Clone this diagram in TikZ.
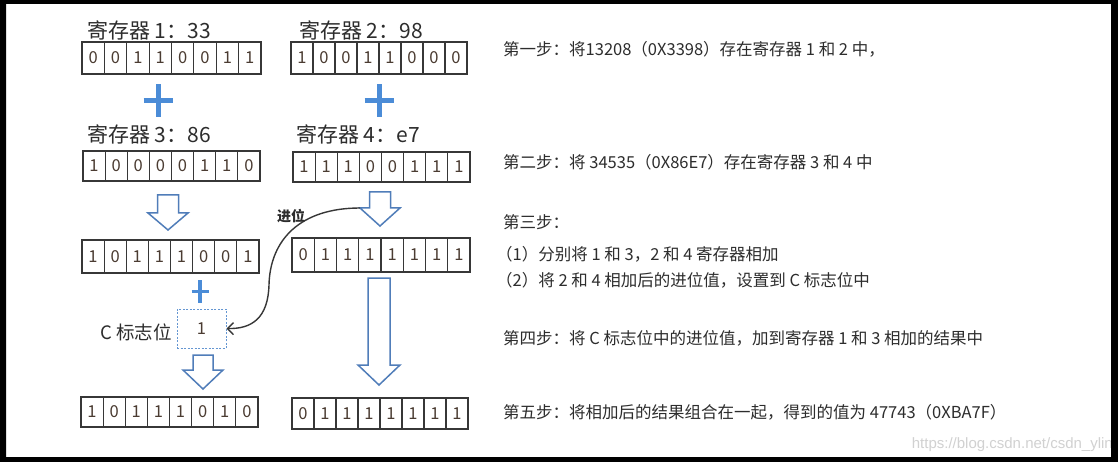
\documentclass[tikz,border=0pt]{standalone}
\usepackage{fontspec}
\setmainfont{Noto Sans CJK SC}
\newfontfamily\wmfont{Liberation Sans}
\usetikzlibrary{arrows.meta,calc}
\definecolor{plusblue}{RGB}{75,140,215}
\definecolor{arrowblue}{RGB}{80,125,185}
\definecolor{flagblue}{RGB}{100,150,210}
\definecolor{boxgray}{RGB}{55,55,55}
\definecolor{digitcol}{RGB}{75,60,50}
\definecolor{textcol}{RGB}{45,45,45}
\tikzset{
  bitcell/.style={draw=boxgray, line width=1.2pt, inner sep=0pt, text=digitcol, font=\fontsize{16.5}{16.5}\selectfont},
  reglabel/.style={anchor=base west, inner sep=0pt, text=textcol, font=\fontsize{21}{21}\selectfont},
  steptext/.style={anchor=base west, inner sep=0pt, text=textcol, font=\fontsize{16.5}{17}\selectfont},
  plusbar/.style={draw=plusblue},
  blockarrow/.style={draw=arrowblue, line width=1.5pt, fill=white, line join=miter},
  flagbox/.style={draw=flagblue, dash pattern=on 2pt off 1.5pt, line width=1pt, minimum width=49pt, minimum height=39pt, inner sep=0pt, text=digitcol, font=\fontsize{16.5}{16.5}\selectfont},
  carry/.style={draw=boxgray, line width=1.4pt, -{Straight Barb[length=6pt,width=12pt]}},
}
\newcommand{\register}[6]{%
  \foreach \b [count=\i] in {#6} {
    \node[bitcell, minimum width=#4/8, minimum height=#5] (#1-\i) at ({#2+(\i-0.5)*#4/8},{#3+#5/2}) {\b};
  }
}
\newcommand{\downblock}[7]{%
  \draw[blockarrow] ({#2-#6/2},#3) -- ({#2+#6/2},#3) -- ({#2+#6/2},#4) -- ({#2+#7/2},#4) -- (#2,#5) -- ({#2-#7/2},#4) -- ({#2-#6/2},#4) -- cycle;
  \coordinate (#1-lh) at ({#2-#7/2},#4);
}
\newcommand{\plussign}[5]{%
  \draw[plusbar, line width=#5] ({#1-#3},#2) -- ({#1+#3},#2) (#1,{#2-#4}) -- (#1,{#2+#4});
}
\begin{document}
\begin{tikzpicture}[x=1pt,y=-1pt]
\useasboundingbox (0,0) rectangle (1118,462);
\fill[white] (0,0) rectangle (1118,462);
% labels
\node[reglabel] (l1) at (87,38.5) {寄存器 1：33};
\node[reglabel] (l2) at (299,39) {寄存器 2：98};
\node[reglabel] (l3) at (87,143) {寄存器 3：86};
\node[reglabel] (l4) at (296,143) {寄存器 4：e7};
% registers
\register{r1}{82}{42}{179}{32}{0,0,1,1,0,0,1,1}
\register{r2}{291}{42}{176}{32}{1,0,0,1,1,0,0,0}
\register{r3}{83}{151}{177}{30}{1,0,0,0,0,1,1,0}
\register{r4}{293}{152}{177}{30}{1,1,1,0,0,1,1,1}
\register{s1}{82}{240}{177}{33}{1,0,1,1,1,0,0,1}
\register{s2}{292}{238}{178}{34}{0,1,1,1,1,1,1,1}
\register{f1}{81}{397}{177}{30}{1,0,1,1,1,0,1,0}
\register{f2}{292}{398}{176}{31}{0,1,1,1,1,1,1,1}
% plus signs
\plussign{158}{101}{14.5}{16.5}{5}
\plussign{379}{101}{14.5}{16.5}{5}
\plussign{200}{291.5}{8.5}{11.5}{3.5}
% block arrows
\downblock{a1}{168}{195}{213}{230}{21}{40}
\downblock{a2}{380}{192}{208}{226}{21}{40}
\downblock{a3}{203}{355}{370}{389}{20}{40}
\downblock{a4}{379}{278}{365}{385}{22}{42}
% carry flag
\node[flagbox] (cflag) at (201.5,328.5) {1};
\node[reglabel, font=\fontsize{18.5}{19}\selectfont] (clabel) at (100,339) {C 标志位};
\draw[carry] (a2-lh) .. controls (300,208) and (270,240) .. (269,285) .. controls (268,318) and (252,329) .. (cflag.east);
\node[font=\bfseries\fontsize{14}{14}\selectfont, text=textcol, inner sep=0pt] (carrylbl) at (291,216) {进位};
% step texts
\node[steptext] (t1) at (503,56) {第一步：将13208（0X3398）存在寄存器 1 和 2 中，};
\node[steptext] (t2) at (503,169) {第二步：将 34535（0X86E7）存在寄存器 3 和 4 中};
\node[steptext] (t3) at (503,229) {第三步：};
\node[steptext] (t4) at (496,261) {（1）分别将 1 和 3，2 和 4 寄存器相加};
\node[steptext] (t5) at (496,286) {（2）将 2 和 4 相加后的进位值，设置到 C 标志位中};
\node[steptext] (t6) at (503,344) {第四步：将 C 标志位中的进位值，加到寄存器 1 和 3 相加的结果中};
\node[steptext] (t7) at (503,418) {第五步：将相加后的结果组合在一起，得到的值为 47743（0XBA7F）};
% watermark
\node[anchor=base east, inner sep=0pt, font=\wmfont\fontsize{15}{15}\selectfont, text=black!18] (wm) at (1113,448) {https://blog.csdn.net/csdn\_ylin};
% screen frame
\fill[black, even odd rule] (0,0) rectangle (1118,462) (6,4) rectangle (1111,457);
\end{tikzpicture}
\end{document}
